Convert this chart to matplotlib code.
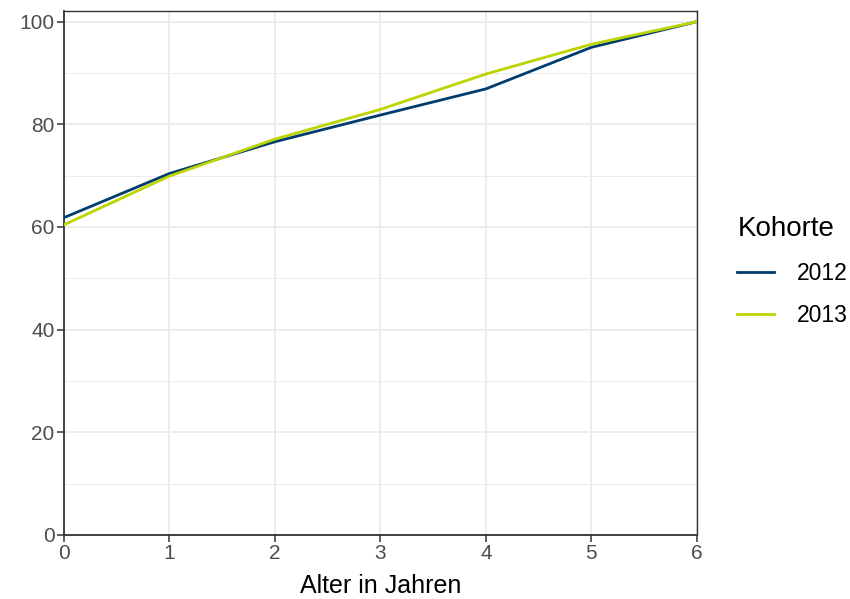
import matplotlib
matplotlib.use("Agg")
import matplotlib.pyplot as plt

plt.rcParams['font.family'] = ['Liberation Sans', 'DejaVu Sans']

alter = [0, 1, 2, 3, 4, 5, 6]
kohorte_2012 = [61.8, 70.4, 76.6, 81.8, 86.9, 95.0, 100.0]
kohorte_2013 = [60.4, 69.9, 77.1, 82.9, 89.8, 95.6, 100.0]
x_ticks = [0, 1, 2, 3, 4, 5, 6]
y_ticks = [0, 20, 40, 60, 80, 100]

fig = plt.figure(figsize=(8.5, 5.99), dpi=100)
ax = fig.add_axes([0.075, 0.107, 0.745, 0.874])

ax.plot(alter, kohorte_2012, color="#003d6e", lw=2, label="2012", zorder=3)
ax.plot(alter, kohorte_2013, color="#bcd400", lw=2, label="2013", zorder=3)

ax.set_xlim(0, 6)
ax.set_ylim(0, 102)
ax.set_xticks(x_ticks)
ax.set_yticks(y_ticks)
ax.set_yticks([10, 30, 50, 70, 90], minor=True)
ax.grid(which="major", color="#ebebeb", lw=1.3)
ax.grid(which="minor", axis="y", color="#ebebeb", lw=0.7)
ax.set_axisbelow(True)

for s in ax.spines.values():
    s.set_color("#333333")
    s.set_linewidth(1.0)
ax.spines["left"].set_linewidth(1.3)
ax.spines["bottom"].set_linewidth(1.3)
ax.tick_params(axis="both", which="major", length=5, width=1.1, color="#333333",
               labelcolor="#4d4d4d", labelsize=15, pad=1.5)
ax.tick_params(axis="both", which="minor", length=0)

ax.set_xlabel("Alter in Jahren", fontsize=18, color="black", labelpad=8)

leg = ax.legend(title="Kohorte", loc="center left", bbox_to_anchor=(1.031, 0.503),
                frameon=False, fontsize=16.5, title_fontsize=20, handlelength=1.6,
                labelspacing=0.85, handletextpad=1.0)
leg._legend_box.align = "left"

fig.savefig("out.png", dpi=100)
